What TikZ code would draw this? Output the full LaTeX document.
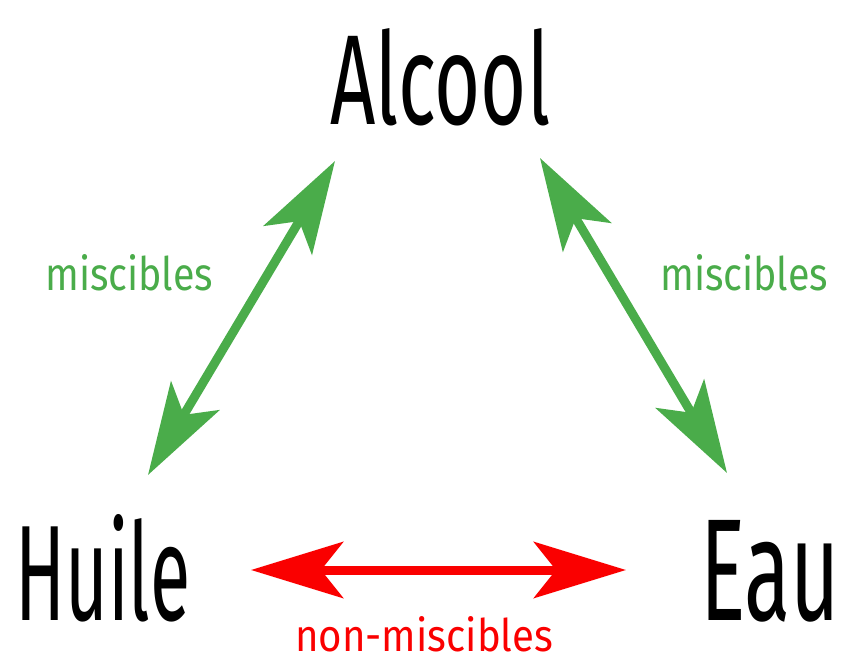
\documentclass[tikz,border=0pt]{standalone}
\usepackage{fontspec}
\setmainfont{Fira Sans}
\usetikzlibrary{arrows.meta}
\definecolor{mgreen}{RGB}{74,172,74}
\definecolor{mred}{RGB}{250,0,0}
\begin{document}
\begin{tikzpicture}[x=1pt,y=1pt,
  txt/.style={inner sep=0pt, anchor=south west},
  dbl/.style={line width=9pt, {Stealth[length=92pt,width=56pt,inset=22pt]}-{Stealth[length=92pt,width=56pt,inset=22pt]}}]
\useasboundingbox (0,0) rectangle (849,-661);
\node[txt] (alc) at (330,-126) {\resizebox{220pt}{96pt}{Alcool}};
\node[txt] (hui) at (15,-622) {\resizebox{175pt}{106pt}{Huile}};
\node[txt] (eau) at (700,-622) {\resizebox{140pt}{100pt}{Eau}};
\node[txt, text=mgreen] (ml) at (45,-291) {\resizebox{168pt}{36pt}{miscibles}};
\node[txt, text=mgreen] (mr) at (660,-291) {\resizebox{168pt}{36pt}{miscibles}};
\node[txt, text=mred] (nm) at (295,-652) {\resizebox{258pt}{35pt}{non-miscibles}};
\coordinate (la) at (335,-161);
\coordinate (lb) at (148,-475);
\coordinate (ra) at (540,-158);
\coordinate (rb) at (727,-473);
\coordinate (ha) at (251,-570);
\coordinate (hb) at (626,-570);
\draw[dbl, mgreen] (lb) -- (la);
\draw[dbl, mgreen] (ra) -- (rb);
\draw[dbl, mred] (ha) -- (hb);
\end{tikzpicture}
\end{document}
